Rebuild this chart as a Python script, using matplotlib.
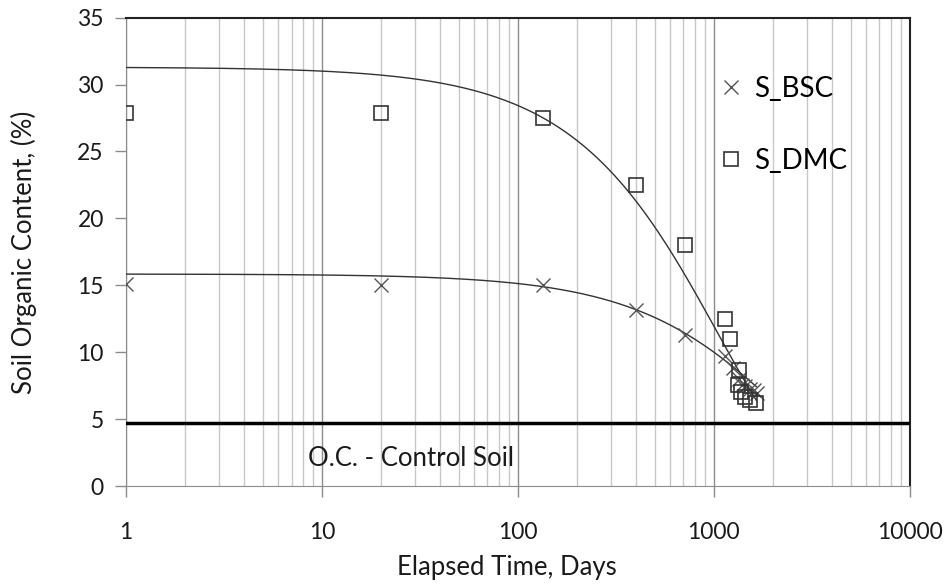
import numpy as np
import matplotlib
matplotlib.use("Agg")
import matplotlib.pyplot as plt

plt.rcParams['font.family'] = ['Lato', 'DejaVu Sans']

# data
t_bsc = [1, 20, 135, 400, 717, 1138, 1250, 1346, 1400, 1440, 1530, 1600, 1660]
oc_bsc = [15.1, 15.0, 15.0, 13.2, 11.3, 9.7, 8.8, 8.0, 7.6, 7.5, 7.3, 7.2, 7.0]

t_dmc = [1, 20, 135, 400, 717, 1138, 1207, 1346, 1330, 1385, 1438, 1527, 1652]
oc_dmc = [27.9, 27.9, 27.5, 22.5, 18.0, 12.5, 11.0, 8.7, 7.55, 7.06, 6.7, 6.45, 6.2]

# exponential trendlines y = a*exp(b*t)
bsc_a, bsc_b = 15.85, -0.000458
dmc_a, dmc_b = 31.3, -0.00096

control_oc = 4.75

fig = plt.figure(figsize=(9.48, 5.85), dpi=100)
ax = fig.add_axes([0.1329, 0.1687, 0.9595 - 0.1329, 0.970 - 0.1687])

ax.set_xscale('log')
ax.set_xlim(1, 10000)
ax.set_ylim(0, 35)

# vertical gridlines
ax.grid(True, which='minor', axis='x', color='#c8c8c8', lw=1.0)
ax.grid(True, which='major', axis='x', color='#8c8c8c', lw=1.0)
ax.set_axisbelow(True)

tt = np.logspace(0, np.log10(max(t_dmc)), 300)
ax.plot(tt, dmc_a * np.exp(dmc_b * tt), color='#333333', lw=1.0, zorder=3)
ax.plot(tt, bsc_a * np.exp(bsc_b * tt), color='#333333', lw=1.0, zorder=3)

ax.plot(t_bsc, oc_bsc, ls='none', marker='x', ms=9.5, mew=1.0,
        color='#555555', label='S_BSC', zorder=4)
ax.plot(t_dmc, oc_dmc, ls='none', marker='s', ms=9.5, mew=1.2,
        mfc='none', mec='#333333', label='S_DMC', zorder=4)

ax.axhline(control_oc, color='black', lw=2.5, zorder=3)
ax.text(8.45, 2.1, 'O.C. - Control Soil', fontsize=18.5, color='#1a1a1a',
        va='center', ha='left')

ax.set_yticks(range(0, 36, 5))
ax.set_xticks([1, 10, 100, 1000, 10000])
ax.set_xticklabels(['1', '10', '100', '1000', '10000'])
ax.tick_params(axis='both', which='major', labelsize=16.5, labelcolor='#1a1a1a',
               length=8, width=1, direction='out', color='#8c8c8c')
ax.tick_params(axis='x', which='minor', length=0)
ax.tick_params(axis='x', pad=18)
ax.tick_params(axis='y', pad=8)

for s in ['left', 'bottom']:
    ax.spines[s].set_color('#8c8c8c')
for s in ['top', 'right']:
    ax.spines[s].set_color('#222222')
    ax.spines[s].set_linewidth(1.5)

fig.text(507 / 948, 1 - 568 / 585, 'Elapsed Time, Days', fontsize=18.5,
         color='#1a1a1a', ha='center', va='center')
fig.text(24 / 948, 0.5 * (0.1687 + 0.970), 'Soil Organic Content, (%)', fontsize=18.5,
         color='#1a1a1a', ha='center', va='center', rotation=90)

ax.legend(loc='upper left', bbox_to_anchor=(0.746, 0.90), frameon=False,
          fontsize=20, handlelength=0.7, handletextpad=0.45, labelspacing=1.68,
          borderaxespad=0)

fig.savefig('out.png', dpi=100)
